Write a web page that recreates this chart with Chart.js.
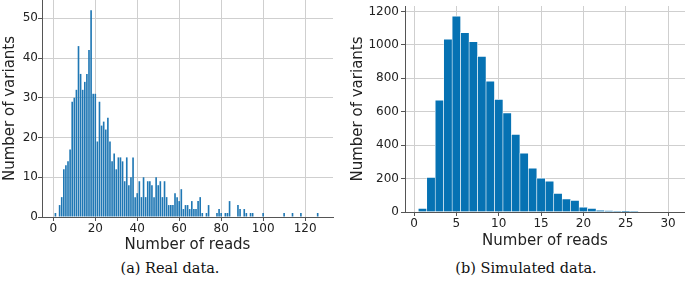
<!DOCTYPE html>
<html>
<head>
<meta charset="utf-8">
<script src="https://cdn.jsdelivr.net/npm/chart.js@4.4.1/dist/chart.umd.min.js"></script>
<style>
  body { margin: 0; background: #fff; width: 685px; height: 284px; position: relative; overflow: hidden; }
  canvas { position: absolute; top: 0; }
  #real_chart { left: 0; }
  #sim_chart { left: 345px; }
  .caption { position: absolute; top: 260px; font-family: "DejaVu Serif", serif; font-size: 14.5px; color: #111; transform: translateX(-50%); white-space: nowrap; }
</style>
</head>
<body>
<canvas id="real_chart" width="340" height="254"></canvas>
<canvas id="sim_chart" width="340" height="250"></canvas>
<div class="caption" style="left:170px">(a) Real data.</div>
<div class="caption" style="left:526px">(b) Simulated data.</div>
<script>
// Histograma dos dados reais: contagem por numero de reads (0..127)
const realCounts = [
  0, 1, 0, 3, 5, 12, 13, 14, 17, 29,
  30, 32, 43, 36, 32, 34, 36, 42, 52, 31,
  31, 19, 29, 23, 24, 22, 25, 19, 14, 16,
  12, 15, 15, 14, 9, 15, 8, 10, 15, 5,
  6, 9, 5, 10, 5, 9, 9, 8, 5, 10,
  8, 9, 5, 9, 5, 3, 3, 3, 6, 5,
  4, 7, 2, 3, 3, 2, 4, 2, 2, 4,
  5, 1, 0, 1, 3, 0, 0, 0, 1, 2,
  1, 0, 1, 1, 4, 0, 0, 0, 3, 2,
  0, 2, 1, 0, 1, 1, 0, 0, 0, 0,
  1, 0, 0, 0, 0, 0, 0, 0, 0, 0,
  1, 0, 0, 0, 1, 0, 0, 0, 1, 0,
  0, 0, 0, 0, 0, 0, 1, 0
];
const realReads = realCounts.map((_, i) => i);
const realXTicks = [0, 20, 40, 60, 80, 100, 120];
const realYTicks = [0, 10, 20, 30, 40, 50];

// Histograma dos dados simulados (0..30)
const simCounts = [
  0, 24, 209, 672, 1036, 1174, 1076, 1021, 933, 785,
  676, 595, 466, 354, 264, 204, 187, 113, 80, 72,
  31, 23, 12, 8, 4, 2, 1, 0, 0, 0, 0
];
const simReads = simCounts.map((_, i) => i);
const simXTicks = [0, 5, 10, 15, 20, 25, 30];
const simYTicks = [0, 200, 400, 600, 800, 1000, 1200];

Chart.defaults.font.family = 'DejaVu Sans';
Chart.defaults.color = '#222';

const gridColor = '#cfcfcf';
const axisColor = '#555';

// sem padding automatico das escalas (a area do grafico fica onde eu quero)
function noPad(s) {
  s.paddingTop = 0; s.paddingBottom = 0; s.paddingLeft = 0; s.paddingRight = 0;
}

function makeOptions(cfg) {
  return {
    responsive: false,
    animation: false,
    devicePixelRatio: 1,
    layout: { autoPadding: false, padding: cfg.padding },
    plugins: { legend: { display: false }, tooltip: { enabled: false } },
    scales: {
      x: {
        type: 'linear',
        offset: false,
        min: cfg.xMin,
        max: cfg.xMax,
        afterBuildTicks: s => { s.ticks = cfg.xTicks.map(v => ({ value: v })); },
        afterFit: s => { s.height = cfg.xHeight; noPad(s); },
        grid: { offset: false, color: gridColor, tickColor: axisColor, tickLength: 4 },
        border: { display: true, color: axisColor },
        ticks: { font: { size: cfg.tickSize }, padding: 1, maxRotation: 0, callback: v => String(v) },
        title: { display: true, text: 'Number of reads', font: { size: cfg.titleSize }, padding: { top: 0, bottom: 0 } }
      },
      y: {
        min: 0,
        max: cfg.yMax,
        afterBuildTicks: s => { s.ticks = cfg.yTicks.map(v => ({ value: v })); },
        afterFit: s => { s.width = cfg.yWidth; noPad(s); },
        grid: { color: gridColor, tickColor: axisColor, tickLength: 4 },
        border: { display: true, color: axisColor },
        ticks: { font: { size: cfg.tickSize }, padding: cfg.yTickPad, callback: v => String(v) },
        title: { display: true, text: 'Number of variants', font: { size: cfg.titleSize }, padding: { top: cfg.yTitlePad, bottom: 0 } }
      }
    }
  };
}

new Chart(document.getElementById('real_chart'), {
  type: 'bar',
  data: {
    datasets: [{
      data: realReads.map((r, i) => ({ x: r, y: realCounts[i] })),
      backgroundColor: '#1f77b4',
      barPercentage: 0.78,
      categoryPercentage: 1.0
    }]
  },
  options: makeOptions({
    padding: { top: 0, right: 7, bottom: 0, left: 0 },
    xMin: -5.4, xMax: 133.3, xTicks: realXTicks, xHeight: 37,
    yMax: 54.6, yTicks: realYTicks, yWidth: 42, yTickPad: 0, yTitlePad: 1,
    tickSize: 12, titleSize: 15
  })
});

new Chart(document.getElementById('sim_chart'), {
  type: 'bar',
  data: {
    datasets: [{
      data: simReads.map((r, i) => ({ x: r, y: simCounts[i] })),
      backgroundColor: '#0672b3',
      borderColor: '#ffffff',
      borderWidth: { left: 0.6, right: 0.6, top: 1, bottom: 0 },
      borderSkipped: false,
      barPercentage: 1.0,
      categoryPercentage: 1.0
    }]
  },
  options: makeOptions({
    padding: { top: 6, right: 0, bottom: 0, left: 0 },
    xMin: -1.07, xMax: 32.0, xTicks: simXTicks, xHeight: 38,
    yMax: 1233, yTicks: simYTicks, yWidth: 60, yTickPad: 2, yTitlePad: 4.5,
    tickSize: 12, titleSize: 15
  })
});
</script>
</body>
</html>
